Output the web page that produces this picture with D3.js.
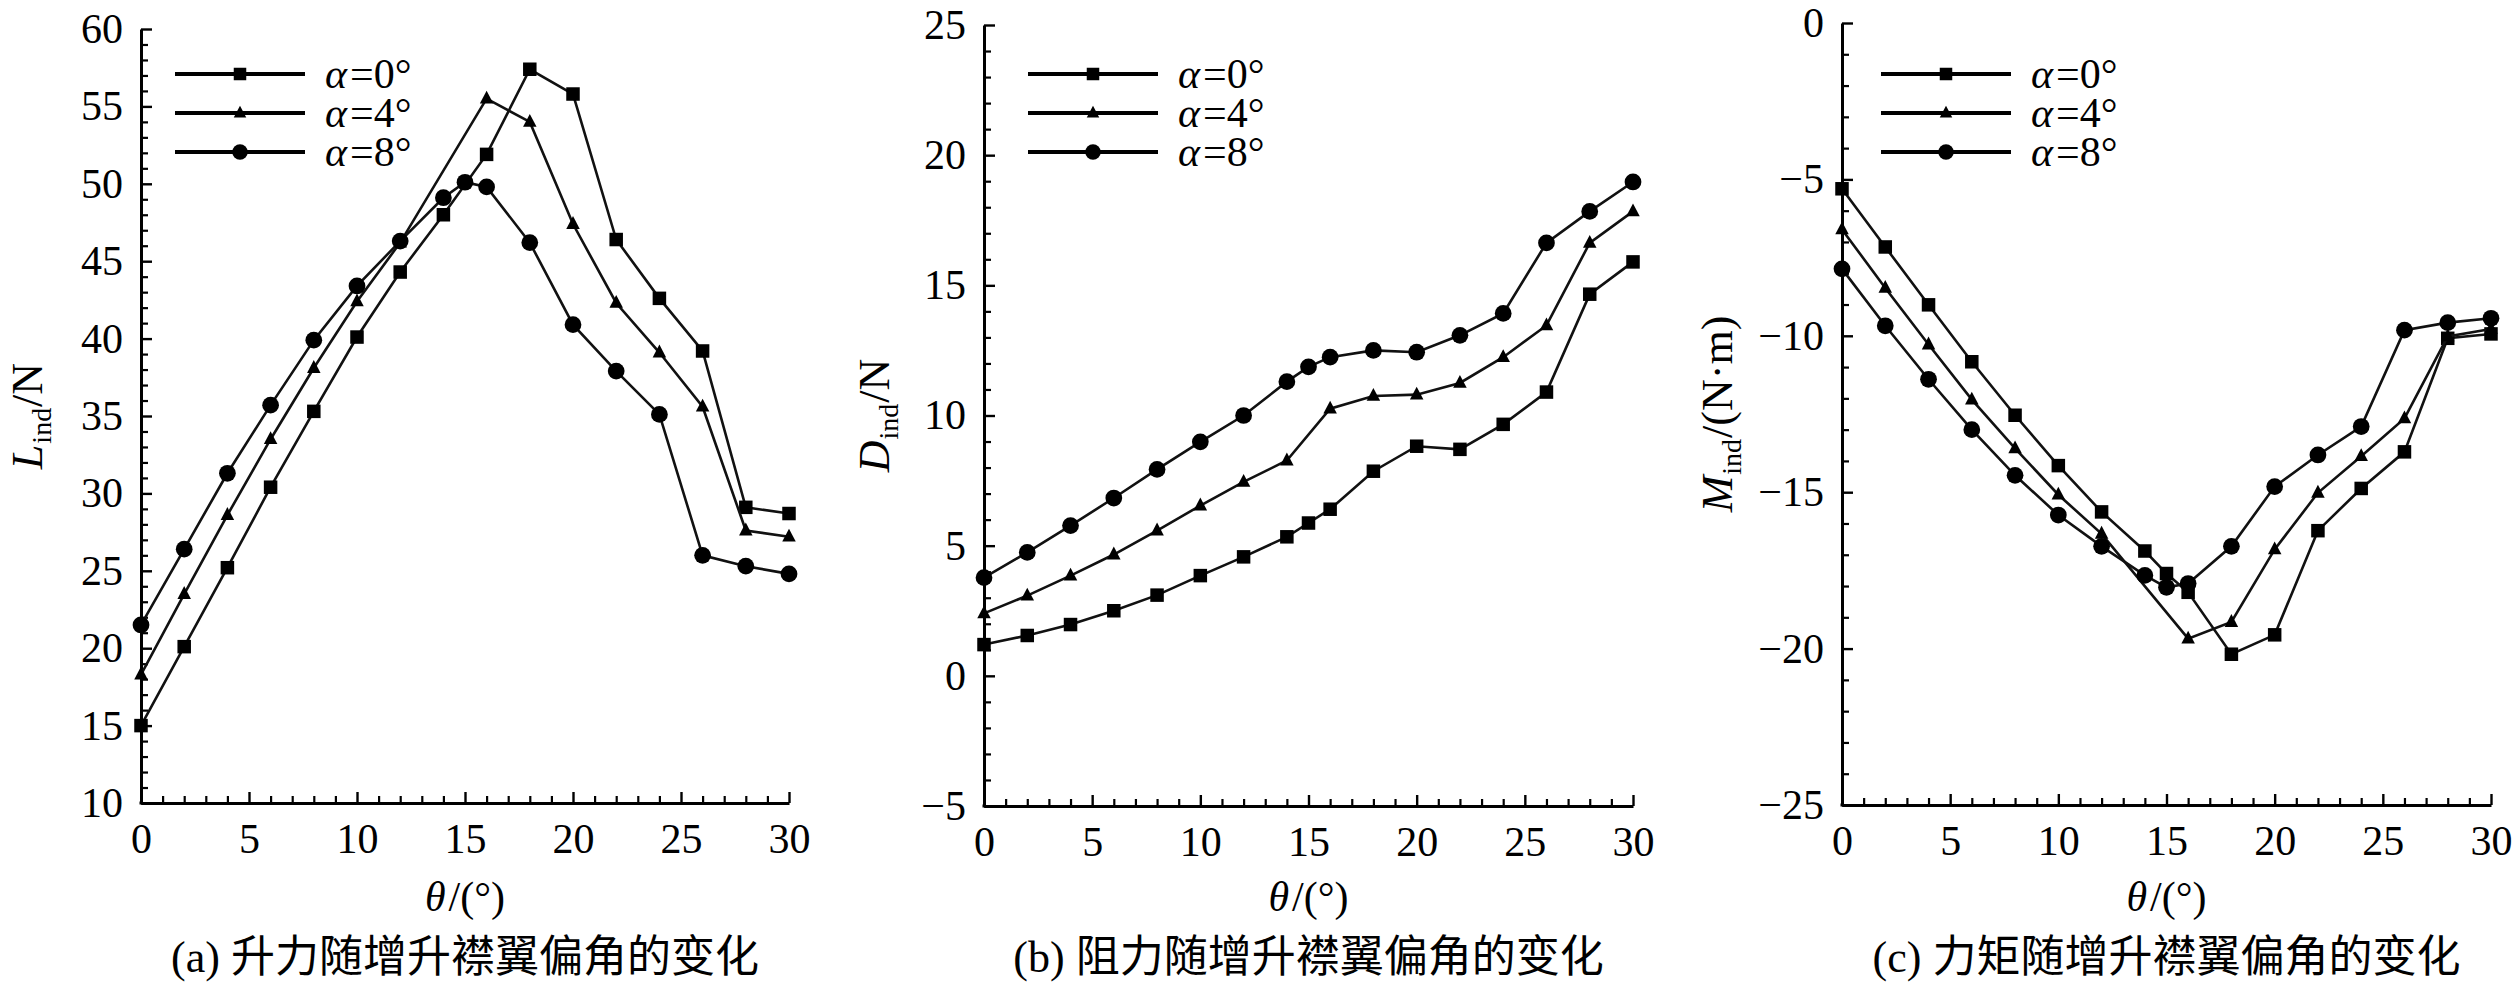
<!DOCTYPE html>
<html>
<head>
<meta charset="utf-8">
<script src="https://cdn.jsdelivr.net/npm/d3@7/dist/d3.min.js"></script>
<style>
  html, body { margin: 0; padding: 0; background: #fff; }
  svg { display: block; }
</style>
</head>
<body>
<svg id="chart" width="2520" height="988" font-family="'Liberation Serif', 'DejaVu Serif', serif"></svg>
<script>
// ---------------- data ----------------
const thetaAll   = [0, 2, 4, 6, 8, 10, 12, 14, 15, 16, 18, 20, 22, 24, 26, 28, 30];
const thetaNo15  = [0, 2, 4, 6, 8, 10, 12, 14, 16, 18, 20, 22, 24, 26, 28, 30];
const thetaNo14  = [0, 2, 4, 6, 8, 10, 12, 16, 18, 20, 22, 24, 26, 28, 30];

const seriesNames = ["α=0°", "α=4°", "α=8°"];
const markerTypes = ["square", "triangle", "circle"];

// (a) lift L_ind / N
const lift0 = [15.0, 20.1, 25.2, 30.4, 35.3, 40.1, 44.3, 48.0, 51.9, 57.4, 55.8, 46.4, 42.6, 39.2, 29.1, 28.7];
const lift4 = [18.3, 23.5, 28.6, 33.5, 38.1, 42.4, 46.2, 55.5, 54.0, 47.4, 42.3, 39.1, 35.6, 27.6, 27.2];
const lift8 = [21.5, 26.4, 31.3, 35.7, 39.9, 43.4, 46.3, 49.1, 50.1, 49.8, 46.2, 40.9, 37.9, 35.1, 26.0, 25.3, 24.8];

// (b) drag D_ind / N
const drag0 = [1.2, 1.55, 1.97, 2.5, 3.1, 3.85, 4.57, 5.34, 5.87, 6.4, 7.86, 8.82, 8.7, 9.66, 10.9, 14.66, 15.9];
const drag4 = [2.4, 3.08, 3.85, 4.66, 5.58, 6.54, 7.45, 8.27, 10.26, 10.75, 10.8, 11.25, 12.24, 13.46, 16.63, 17.84];
const drag8 = [3.77, 4.74, 5.77, 6.83, 7.93, 8.99, 10.0, 11.3, 11.87, 12.24, 12.5, 12.43, 13.08, 13.92, 16.63, 17.84, 18.97];

// (c) moment M_ind / (N·m)
const moment0 = [-5.3, -7.16, -9.01, -10.83, -12.54, -14.15, -15.63, -16.88, -17.6, -18.2, -20.18, -19.56, -16.23, -14.88, -13.71, -10.08, -9.94];
const moment4 = [-6.6, -8.47, -10.28, -12.04, -13.6, -15.08, -16.33, -19.68, -19.15, -16.83, -15.02, -13.85, -12.64, -10.02, -9.78];
const moment8 = [-7.86, -9.68, -11.39, -13.0, -14.46, -15.73, -16.73, -17.66, -18.04, -17.92, -16.73, -14.82, -13.81, -12.9, -9.82, -9.58, -9.44];

// ticks
const xMajorTicks = [0, 5, 10, 15, 20, 25, 30];
const xDomain = [0, 30];
const yTicksA = [10, 15, 20, 25, 30, 35, 40, 45, 50, 55, 60];
const yTicksB = [-5, 0, 5, 10, 15, 20, 25];
const yTicksC = [-25, -20, -15, -10, -5, 0];

const captions = ["(a) 升力随增升襟翼偏角的变化", "(b) 阻力随增升襟翼偏角的变化", "(c) 力矩随增升襟翼偏角的变化"];
const yLabelMain = ["L", "D", "M"];
const yLabelUnit = ["/N", "/N", "/(N·m)"];

// ---------------- layout ----------------
const FONT = "'Liberation Serif', 'DejaVu Serif', serif";
const layout = [
  { x0: 141, x1: 789, yTop: 29, yBot: 803, labOff: 99, legOff: 34 },
  { x0: 984, x1: 1633, yTop: 25, yBot: 806, labOff: 95, legOff: 44 },
  { x0: 1842, x1: 2491, yTop: 23, yBot: 805, labOff: 110, legOff: 39 }
];

const panelData = [
  { yTicks: yTicksA, series: [[thetaNo15, lift0], [thetaNo14, lift4], [thetaAll, lift8]] },
  { yTicks: yTicksB, series: [[thetaAll, drag0], [thetaNo15, drag4], [thetaAll, drag8]] },
  { yTicks: yTicksC, series: [[thetaAll, moment0], [thetaNo14, moment4], [thetaAll, moment8]] }
];

const svg = d3.select("#chart");

function range(a, b, step) { const r = []; for (let v = a; v <= b + 1e-9; v += step) r.push(v); return r; }

function drawMarker(g, type, cx, cy, s) {
  if (type === "square") {
    g.append("rect").attr("x", cx - s / 2).attr("y", cy - s / 2).attr("width", s).attr("height", s).attr("fill", "#000");
  } else if (type === "circle") {
    g.append("circle").attr("cx", cx).attr("cy", cy).attr("r", s * 0.62).attr("fill", "#000");
  } else {
    const h = s * 0.95;
    g.append("path").attr("d", `M${cx},${cy - h * 0.62}L${cx + s / 2},${cy + h * 0.38}L${cx - s / 2},${cy + h * 0.38}Z`).attr("fill", "#000");
  }
}

panelData.forEach((pd, i) => {
  const L = layout[i];
  const g = svg.append("g");
  const x = d3.scaleLinear().domain(xDomain).range([L.x0, L.x1]);
  const yDom = d3.extent(pd.yTicks);
  const y = d3.scaleLinear().domain(yDom).range([L.yBot, L.yTop]);

  // minor ticks
  g.append("g").attr("transform", `translate(0,${L.yBot})`)
    .call(d3.axisBottom(x).tickValues(range(0, 30, 1).filter(v => v % 5 !== 0)).tickSizeInner(-7).tickSizeOuter(0).tickFormat(""))
    .call(a => a.select(".domain").remove())
    .call(a => a.selectAll("line").attr("stroke", "#000").attr("stroke-width", 2.2));
  g.append("g").attr("transform", `translate(${L.x0},0)`)
    .call(d3.axisLeft(y).tickValues(range(yDom[0], yDom[1], 1).filter(v => !pd.yTicks.includes(v))).tickSizeInner(-7).tickSizeOuter(0).tickFormat(""))
    .call(a => a.select(".domain").remove())
    .call(a => a.selectAll("line").attr("stroke", "#000").attr("stroke-width", 2.2));

  // major axes
  const xa = g.append("g").attr("transform", `translate(0,${L.yBot})`)
    .call(d3.axisBottom(x).tickValues(xMajorTicks).tickSizeInner(-11).tickSizeOuter(0).tickPadding(20).tickFormat(d3.format("d")));
  const ya = g.append("g").attr("transform", `translate(${L.x0},0)`)
    .call(d3.axisLeft(y).tickValues(pd.yTicks).tickSizeInner(-11).tickSizeOuter(0).tickPadding(18).tickFormat(d3.format("d")));
  [xa, ya].forEach(a => {
    a.attr("font-family", FONT).attr("font-size", 42);
    a.select(".domain").attr("stroke", "#000").attr("stroke-width", 3);
    a.selectAll(".tick line").attr("stroke", "#000").attr("stroke-width", 2.4);
    a.selectAll(".tick text").attr("fill", "#000");
  });
  g.append("line").attr("x1", L.x0 - 1.5).attr("x2", L.x0 + 1.5).attr("y1", L.yBot).attr("y2", L.yBot).attr("stroke", "#000").attr("stroke-width", 3);

  // series
  const line = d3.line().x(d => x(d[0])).y(d => y(d[1]));
  pd.series.forEach((s, k) => {
    const pts = s[0].map((t, j) => [t, s[1][j]]);
    g.append("path").datum(pts).attr("d", line).attr("fill", "none").attr("stroke", "#111").attr("stroke-width", 2.6);
    const mg = g.append("g");
    pts.forEach(p => drawMarker(mg, markerTypes[k], x(p[0]), y(p[1]), 13.5));
  });

  // legend
  const legY = [74, 113, 152];
  seriesNames.forEach((name, k) => {
    const lx0 = L.x0 + L.legOff, lx1 = lx0 + 130;
    g.append("line").attr("x1", lx0).attr("x2", lx1).attr("y1", legY[k]).attr("y2", legY[k]).attr("stroke", "#000").attr("stroke-width", 4);
    drawMarker(g, markerTypes[k], (lx0 + lx1) / 2, legY[k], 12.5);
    const t = g.append("text").attr("x", lx1 + 20).attr("y", legY[k] + 14).attr("font-family", FONT).attr("font-size", 42);
    t.append("tspan").attr("font-style", "italic").text(name.slice(0, 1));
    t.append("tspan").attr("dx", 3).text(name.slice(1));
  });

  // x label
  const xl = g.append("text").attr("x", (L.x0 + L.x1) / 2).attr("y", 911).attr("text-anchor", "middle").attr("font-family", FONT).attr("font-size", 42);
  xl.append("tspan").attr("font-style", "italic").text("θ");
  xl.append("tspan").attr("dx", 3).text("/(°)");

  // y label
  const yl = g.append("text")
    .attr("transform", `translate(${L.x0 - L.labOff},${(L.yTop + L.yBot) / 2}) rotate(-90)`)
    .attr("text-anchor", "middle").attr("font-family", FONT).attr("font-size", 44);
  yl.append("tspan").attr("font-style", "italic").text(yLabelMain[i]);
  yl.append("tspan").attr("dy", 9).attr("dx", 1).attr("font-size", 28).text("ind");
  yl.append("tspan").attr("dy", -9).attr("dx", 1).text(yLabelUnit[i]);

  // caption
  g.append("text").attr("x", (L.x0 + L.x1) / 2).attr("y", 972).attr("text-anchor", "middle")
    .attr("font-family", FONT + ", 'Noto Sans CJK SC'").attr("font-size", 44).text(captions[i]);
});
</script>
</body>
</html>
